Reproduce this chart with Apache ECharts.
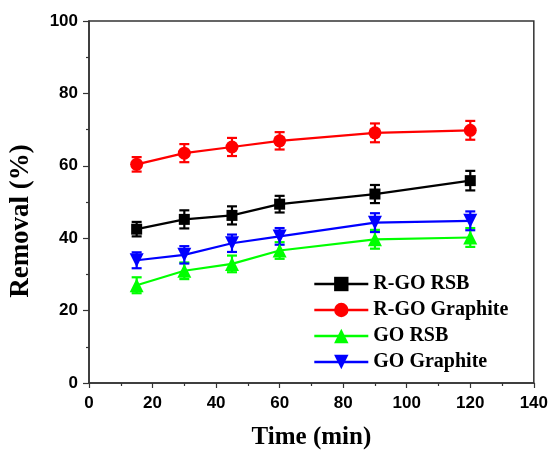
<!DOCTYPE html>
<html>
<head>
<meta charset="utf-8">
<script src="https://cdn.jsdelivr.net/npm/echarts@6/dist/echarts.min.js"></script>
<style>
  html, body { margin: 0; padding: 0; background: #fff; }
  #chart { width: 551px; height: 455px; }
</style>
</head>
<body>
<div id="chart"></div>
<script>
// 时间点 (min)
const times = [15, 30, 45, 60, 90, 120];
// 各组去除率 (%) 及误差
const rgoRsb = [42.5, 45.2, 46.3, 49.4, 52.2, 55.9];
const rgoRsbErr = [2.0, 2.5, 2.5, 2.3, 2.5, 2.7];
const rgoGraphite = [60.4, 63.5, 65.2, 66.9, 69.1, 69.8];
const rgoGraphiteErr = [2.0, 2.5, 2.5, 2.4, 2.6, 2.6];
const goRsb = [27.0, 31.0, 32.9, 36.6, 39.7, 40.2];
const goRsbErr = [2.2, 2.3, 2.3, 2.3, 2.6, 2.6];
const goGraphite = [33.9, 35.4, 38.6, 40.5, 44.3, 44.8];
const goGraphiteErr = [2.2, 2.4, 2.4, 2.3, 2.6, 2.6];
const xTicks = [0, 20, 40, 60, 80, 100, 120, 140];
const yTicks = [0, 20, 40, 60, 80, 100];

const groups = [
  { name: 'R-GO RSB', y: rgoRsb, err: rgoRsbErr, color: '#000000', symbol: 'rect', size: 11 },
  { name: 'R-GO Graphite', y: rgoGraphite, err: rgoGraphiteErr, color: '#ff0000', symbol: 'circle', size: 13 },
  { name: 'GO RSB', y: goRsb, err: goRsbErr, color: '#00ff00', symbol: 'triangle', size: 14 },
  { name: 'GO Graphite', y: goGraphite, err: goGraphiteErr, color: '#0000ff', symbol: 'path://M0,0 L10,0 L5,9 Z', size: 14 }
];

const chart = echarts.init(document.getElementById('chart'));

// 误差棒
const errorSeries = groups.map(g => ({
  type: 'custom',
  name: g.name + ' err',
  z: 1,
  data: times.map((t, i) => [t, g.y[i] - g.err[i], g.y[i] + g.err[i]]),
  renderItem: (params, api) => {
    const lo = api.coord([api.value(0), api.value(1)]);
    const hi = api.coord([api.value(0), api.value(2)]);
    const w = 5;
    const style = { stroke: g.color, lineWidth: 2.2 };
    return {
      type: 'group',
      children: [
        { type: 'line', shape: { x1: lo[0], y1: lo[1], x2: hi[0], y2: hi[1] }, style },
        { type: 'line', shape: { x1: lo[0] - w, y1: lo[1], x2: lo[0] + w, y2: lo[1] }, style },
        { type: 'line', shape: { x1: hi[0] - w, y1: hi[1], x2: hi[0] + w, y2: hi[1] }, style }
      ]
    };
  },
  silent: true
}));

const lineSeries = groups.map(g => ({
  type: 'line',
  name: g.name,
  z: 3,
  data: times.map((t, i) => [t, g.y[i]]),
  symbol: g.symbol,
  symbolSize: g.size,
  lineStyle: { color: g.color, width: 2.2 },
  itemStyle: { color: g.color },
  animation: false
}));

const option = {
  animation: false,
  backgroundColor: '#fff',
  grid: { left: 89, right: 16, top: 21, bottom: 69, show: true, borderColor: '#333', borderWidth: 1.5 },
  legend: {
    data: groups.map(g => g.name),
    orient: 'vertical',
    left: 308,
    top: 269,
    itemWidth: 54,
    itemHeight: 18,
    itemGap: 6,
    lineStyle: { width: 2.6 },
    textStyle: { fontFamily: 'Liberation Serif', fontWeight: 'bold', fontSize: 20, color: '#000' }
  },
  xAxis: {
    type: 'value',
    min: xTicks[0],
    max: xTicks[xTicks.length - 1],
    interval: 20,
    name: 'Time (min)',
    nameLocation: 'middle',
    nameGap: 42,
    nameTextStyle: { fontFamily: 'Liberation Serif', fontWeight: 'bold', fontSize: 25, color: '#000' },
    axisLine: { show: true, onZero: false, lineStyle: { color: '#333', width: 1.5 } },
    axisTick: { show: true, inside: false, length: 5, lineStyle: { color: '#333', width: 1.2 } },
    minorTick: { show: true, splitNumber: 2, length: 3, lineStyle: { color: '#333', width: 1.2 } },
    splitLine: { show: false },
    axisLabel: { margin: 12, fontFamily: 'Liberation Sans', fontWeight: 'bold', fontSize: 17, color: '#000' }
  },
  yAxis: {
    type: 'value',
    min: yTicks[0],
    max: yTicks[yTicks.length - 1],
    interval: 20,
    name: 'Removal (%)',
    nameLocation: 'middle',
    nameGap: 54,
    nameTextStyle: { fontFamily: 'Liberation Serif', fontWeight: 'bold', fontSize: 27, color: '#000', padding: [0, 38, 0, 0] },
    axisLine: { show: true, onZero: false, lineStyle: { color: '#333', width: 1.5 } },
    axisTick: { show: true, inside: false, length: 6, lineStyle: { color: '#333', width: 1.2 } },
    minorTick: { show: true, splitNumber: 2, length: 3, lineStyle: { color: '#333', width: 1.2 } },
    splitLine: { show: false },
    axisLabel: { margin: 11, fontFamily: 'Liberation Sans', fontWeight: 'bold', fontSize: 17, color: '#000' }
  },
  series: [...errorSeries, ...lineSeries]
};

chart.setOption(option);
</script>
</body>
</html>
